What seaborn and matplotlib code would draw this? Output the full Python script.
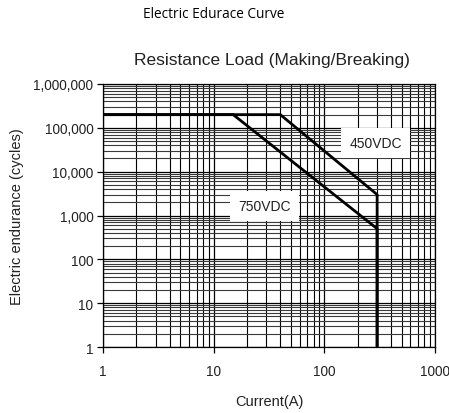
import numpy as np
import pandas as pd
import seaborn as sns
import matplotlib
matplotlib.use("Agg")
import matplotlib.pyplot as plt
from matplotlib.ticker import LogLocator, FixedLocator, FuncFormatter

# Endurance curves: rated cycles vs. switched current for resistive load
current_450 = [1, 40, 300, 300]
cycles_450 = [200000, 200000, 3000, 1]
current_750 = [1, 15, 300, 300]
cycles_750 = [200000, 200000, 500, 1]

x_ticks = [1, 10, 100, 1000]
x_tick_labels = ["1", "10", "100", "1000"]
y_ticks = [1, 10, 100, 1000, 10000, 100000, 1000000]
y_tick_labels = ["1", "10", "100", "1,000", "10,000", "100,000", "1,000,000"]

df = pd.concat([
    pd.DataFrame({"current": current_450, "cycles": cycles_450, "series": "450VDC"}),
    pd.DataFrame({"current": current_750, "cycles": cycles_750, "series": "750VDC"}),
], ignore_index=True)

sns.set_theme(style="white")
plt.rcParams["font.family"] = ["Liberation Sans", "DejaVu Sans"]

fig = plt.figure(figsize=(4.49, 4.14), dpi=100)
ax = fig.add_axes([0.2294, 0.1594, 0.7394, 0.6353])

ax.set_xscale("log")
ax.set_yscale("log")
ax.set_xlim(1, 1000)
ax.set_ylim(1, 1000000)

# log grid: decades plus 2..9 subdivisions
ax.xaxis.set_major_locator(FixedLocator(x_ticks))
ax.yaxis.set_major_locator(FixedLocator(y_ticks))
ax.xaxis.set_minor_locator(LogLocator(base=10, subs=np.arange(2, 10), numticks=20))
ax.yaxis.set_minor_locator(LogLocator(base=10, subs=np.arange(2, 10), numticks=20))
ax.grid(which="major", color="black", linewidth=0.9)
ax.grid(which="minor", axis="x", color="black", linewidth=0.8)
ax.grid(which="minor", axis="y", color="#3a3a3a", linewidth=0.8)
ax.set_axisbelow(True)

ax.xaxis.set_major_formatter(FuncFormatter(lambda v, p: x_tick_labels[x_ticks.index(round(v))] if round(v) in x_ticks else ""))
ax.yaxis.set_major_formatter(FuncFormatter(lambda v, p: y_tick_labels[y_ticks.index(round(v))] if round(v) in y_ticks else ""))
ax.xaxis.set_minor_formatter(FuncFormatter(lambda v, p: ""))
ax.yaxis.set_minor_formatter(FuncFormatter(lambda v, p: ""))

sns.lineplot(data=df, x="current", y="cycles", units="series", estimator=None,
             sort=False, color="black", linewidth=2.0, ax=ax, legend=False,
             zorder=3)

for s in ax.spines.values():
    s.set_color("black")
    s.set_linewidth(0.9)

ax.tick_params(axis="both", which="major", direction="out", length=4, width=0.9,
               color="black", labelsize=9.8, labelcolor="#222222", left=True, bottom=True)
ax.tick_params(axis="x", which="major", pad=8)
ax.tick_params(axis="y", which="major", pad=3)
ax.tick_params(which="minor", length=0)

box = dict(boxstyle="square,pad=0.6", facecolor="white", edgecolor="none")
ax.text(292, 45000, "450VDC", fontsize=10, ha="center", va="center", bbox=box, zorder=4, color="#222222")
ax.text(28.6, 1640, "750VDC", fontsize=10, ha="center", va="center", bbox=box, zorder=4, color="#222222")

ax.set_xlabel("Current(A)", fontsize=10.5, labelpad=12, color="#222222")
ax.set_ylabel("Electric endurance (cycles)", fontsize=10.5, labelpad=7, color="#222222")

fig.text(0.475, 0.965, "Electric Edurace Curve", fontsize=9.8, ha="center", va="center",
         family=["Open Sans", "DejaVu Sans"], color="black")
fig.text(0.605, 0.855, "Resistance Load (Making/Breaking)", fontsize=12.5, ha="center", va="center",
         color="#222222")

fig.savefig("out.png", dpi=100, facecolor="white")
